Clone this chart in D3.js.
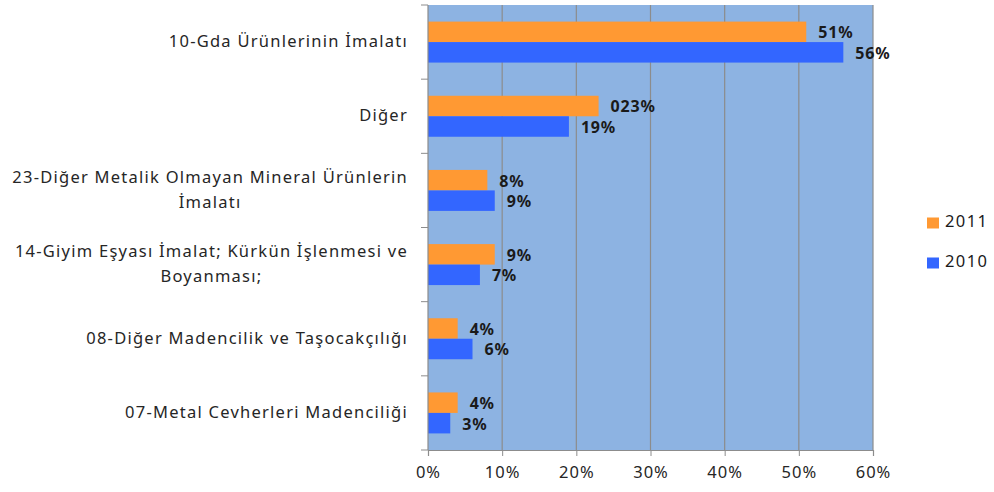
<!DOCTYPE html>
<html>
<head>
<meta charset="utf-8">
<script src="https://cdn.jsdelivr.net/npm/d3@7"></script>
<style>
  html, body { margin: 0; padding: 0; background: #fff; }
  svg { display: block; font-family: "Noto Sans", "Open Sans", sans-serif; }
</style>
</head>
<body>
<svg id="chart" width="994" height="492"></svg>
<script>
// Sector shares, top to bottom
const categories = [
  "10-Gda Ürünlerinin İmalatı",
  "Diğer",
  "23-Diğer Metalik Olmayan Mineral Ürünlerin\nİmalatı",
  "14-Giyim Eşyası İmalat; Kürkün İşlenmesi ve\nBoyanması;",
  "08-Diğer Madencilik ve Taşocakçılığı",
  "07-Metal Cevherleri Madenciliği"
];
const series = ["2011", "2010"];
const values2011 = [51, 23, 8, 9, 4, 4];
const values2010 = [56, 19, 9, 7, 6, 3];
const labels2011 = ["51%", "023%", "8%", "9%", "4%", "4%"];
const labels2010 = ["56%", "19%", "9%", "7%", "6%", "3%"];
const xTicks = [0, 10, 20, 30, 40, 50, 60];
const colors = { "2011": "#FF9933", "2010": "#3366FF" };

const svg = d3.select("#chart");
const margin = { top: 5, right: 121, bottom: 42, left: 428 };
const W = 994, H = 492;
const innerW = W - margin.left - margin.right;
const innerH = H - margin.top - margin.bottom;

const g = svg.append("g").attr("transform", `translate(${margin.left},${margin.top})`);

const x = d3.scaleLinear().domain([0, 60]).range([0, innerW]);
const y = d3.scaleBand().domain(categories).range([0, innerH]).padding(0);
const ySub = d3.scaleBand().domain(series).range([0, y.bandwidth()])
  .paddingInner(0).paddingOuter(0.81);

// plot background
g.append("rect")
  .attr("x", 0).attr("y", 0)
  .attr("width", innerW).attr("height", innerH)
  .attr("fill", "#8DB3E2");

// vertical gridlines
g.append("g")
  .selectAll("line")
  .data(xTicks.slice(1))
  .join("line")
  .attr("x1", d => x(d)).attr("x2", d => x(d))
  .attr("y1", 0).attr("y2", innerH)
  .attr("stroke", "#8C8C8C")
  .attr("stroke-width", 1.2);

// bars
const rows = categories.map((c, i) => ({
  cat: c,
  items: [
    { s: "2011", v: values2011[i], label: labels2011[i] },
    { s: "2010", v: values2010[i], label: labels2010[i] }
  ]
}));

const groups = g.selectAll("g.row")
  .data(rows)
  .join("g")
  .attr("class", "row")
  .attr("transform", d => `translate(0,${y(d.cat)})`);

groups.selectAll("rect")
  .data(d => d.items)
  .join("rect")
  .attr("x", x(0))
  .attr("y", d => ySub(d.s))
  .attr("width", d => x(d.v) - x(0))
  .attr("height", ySub.bandwidth())
  .attr("fill", d => colors[d.s]);

groups.selectAll("text.val")
  .data(d => d.items)
  .join("text")
  .attr("class", "val")
  .attr("x", d => x(d.v) + 12)
  .attr("y", d => ySub(d.s) + ySub.bandwidth() / 2 + 2)
  .attr("dominant-baseline", "middle")
  .attr("font-size", 16)
  .attr("font-weight", "bold")
  .attr("letter-spacing", 0.8)
  .attr("fill", "#1a1a1a")
  .text(d => d.label);

// left axis line with ticks at category boundaries
const axisColor = "#8C8C8C";
g.append("line")
  .attr("x1", 0).attr("x2", 0).attr("y1", 0).attr("y2", innerH)
  .attr("stroke", axisColor).attr("stroke-width", 1.2);
const bounds = categories.map(c => y(c)).concat([innerH]);
g.append("g").selectAll("line")
  .data(bounds)
  .join("line")
  .attr("x1", -7).attr("x2", 0)
  .attr("y1", d => d).attr("y2", d => d)
  .attr("stroke", axisColor);

// bottom axis
const xAxis = d3.axisBottom(x)
  .tickValues(xTicks)
  .tickSize(6)
  .tickPadding(10)
  .tickFormat(d => d + "%");
const ax = g.append("g")
  .attr("transform", `translate(0,${innerH})`)
  .call(xAxis);
ax.select(".domain").attr("stroke", axisColor).attr("stroke-width", 1.2);
ax.selectAll(".tick line").attr("stroke", axisColor);
ax.selectAll(".tick text")
  .attr("font-size", 16.5)
  .attr("font-family", "Noto Sans, sans-serif")
  .attr("letter-spacing", 1)
  .attr("fill", "#262626");

// category labels (multi-line labels centred on each other, block right-aligned)
const catLayer = svg.append("g");
categories.forEach(c => {
  const lines = c.split("\n");
  const cy = margin.top + y(c) + y.bandwidth() / 2 + 1;
  const lh = 25;
  const t = catLayer.append("text")
    .attr("font-size", 16.5)
    .attr("letter-spacing", 1.25)
    .attr("fill", "#262626")
    .attr("dominant-baseline", "middle");
  lines.forEach((ln, k) => {
    t.append("tspan").attr("y", cy + (k - (lines.length - 1) / 2) * lh).text(ln);
  });
  const tspans = t.selectAll("tspan").nodes();
  const widths = tspans.map(n => n.getComputedTextLength());
  const maxW = d3.max(widths);
  const right = 408;
  const center = right - maxW / 2;
  tspans.forEach(n => d3.select(n).attr("x", center).attr("text-anchor", "middle"));
});

// legend
const legend = svg.append("g").attr("transform", "translate(927,0)");
const legendY = { "2011": 223, "2010": 263 };
series.forEach(s => {
  legend.append("rect")
    .attr("x", 0).attr("y", legendY[s] - 5.5)
    .attr("width", 12).attr("height", 11)
    .attr("fill", colors[s]);
  legend.append("text")
    .attr("x", 18).attr("y", legendY[s])
    .attr("dominant-baseline", "middle")
    .attr("font-size", 16.5)
    .attr("letter-spacing", 1.4)
    .attr("fill", "#1a1a1a")
    .text(s);
});
</script>
</body>
</html>
